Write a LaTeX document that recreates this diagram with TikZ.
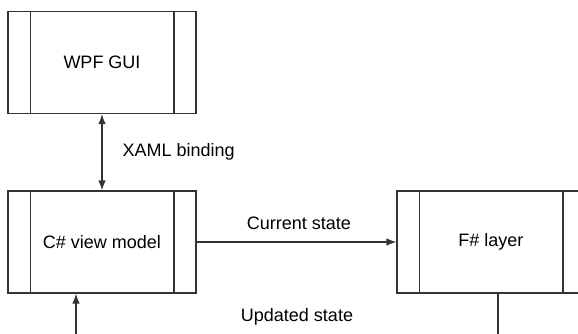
\documentclass[tikz,border=0pt]{standalone}
\usepackage{fontspec}
\setmainfont{Liberation Sans}
\usepackage{tikz}
\usetikzlibrary{calc, positioning, arrows.meta}
\definecolor{linegray}{rgb}{0.2, 0.2, 0.2}
\tikzset{
  layerbox/.style={draw=linegray, line width=1.2pt, minimum width=188pt, minimum height=102pt,
    inner sep=0pt, font=\fontsize{18}{22}\selectfont,
    path picture={
      \draw[linegray, line width=1.2pt] ($(path picture bounding box.north west)+(22.5pt,0)$) -- ($(path picture bounding box.south west)+(22.5pt,0)$);
      \draw[linegray, line width=1.2pt] ($(path picture bounding box.north east)+(-22pt,0)$) -- ($(path picture bounding box.south east)+(-22pt,0)$);
    }},
  flow/.style={line width=1.2pt, linegray, -{Latex[length=10pt, width=7.5pt]}},
  lbl/.style={font=\fontsize{18}{22}\selectfont}
}
\begin{document}
\begin{tikzpicture}[x=1pt, y=-1pt]
                        % Fix the frame
                        \clip (0,0) rectangle (578,334);
                        % Draw layers
                        \node[layerbox] (wpf) at (102,62.5) {WPF GUI};
                        \node[layerbox] (csharp) at (102,242) {C\# view model};
                        \node[layerbox] (fsharp) at (491,242) {F\# layer};
                        % Free ends of the return path
                        \coordinate (retin) at (76,340);
                        \coordinate (retout) at (498,340);
                        % Draw connectors
                        \draw[flow, {Latex[length=10pt, width=7.5pt]}-{Latex[length=10pt, width=7.5pt]}] (wpf.south) -- (csharp.north);
                        \draw[flow] (csharp.east) -- (fsharp.west);
                        \draw[flow] (retin) -- (retin |- csharp.south);
                        \draw[line width=1.2pt, linegray] (retout |- fsharp.south) -- (retout);
                        % Add labels
                        \node[lbl, anchor=west] (xaml) at (119,152) {XAML binding};
                        \node[lbl] (current) at (299,223) {Current state};
                        \node[lbl] (updated) at (297,317) {Updated state};
                    \end{tikzpicture}
\end{document}
